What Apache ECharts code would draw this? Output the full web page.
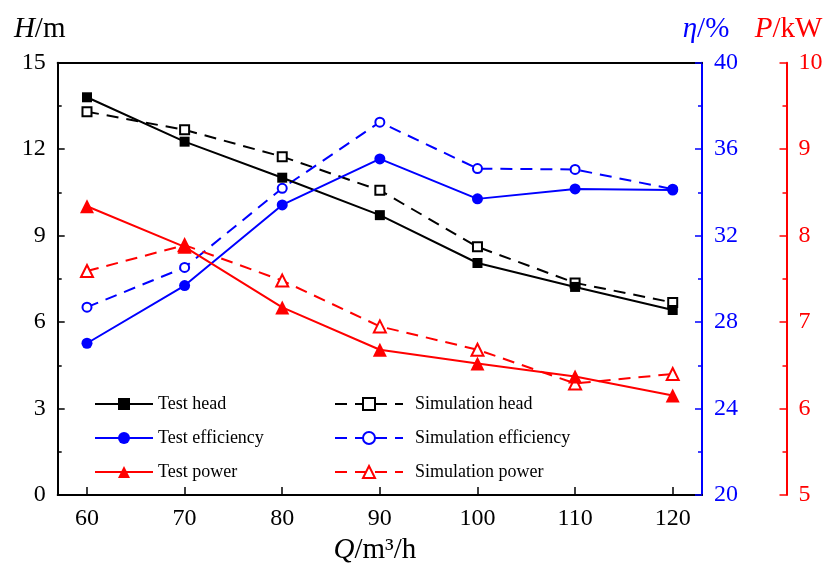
<!DOCTYPE html>
<html>
<head>
<meta charset="utf-8">
<script src="https://cdn.jsdelivr.net/npm/echarts@6/dist/echarts.min.js"></script>
<style>html,body{margin:0;padding:0;background:#fff}#c{width:826px;height:570px}</style>
</head>
<body>
<div id="c"></div>
<script>
var flow = [60, 70, 80, 90, 100, 110, 120];
var xTicks = [60, 70, 80, 90, 100, 110, 120];
var testHead = [13.80, 12.26, 11.01, 9.71, 8.05, 7.22, 6.42];
var simHead = [13.30, 12.67, 11.74, 10.57, 8.61, 7.36, 6.68];
var testEff = [27.02, 29.69, 33.42, 35.55, 33.70, 34.16, 34.11];
var simEff = [28.69, 30.53, 34.19, 37.25, 35.10, 35.06, 34.15];
var testPower = [8.34, 7.87, 7.17, 6.68, 6.52, 6.37, 6.15];
var simPower = [7.59, 7.89, 7.48, 6.95, 6.68, 6.29, 6.40];

var FONT = 'Liberation Serif';
var BLUE = '#0000ff', RED = '#ff0000', BLACK = '#000000';

function pairs(vals) { return flow.map(function (q, i) { return [q, vals[i]]; }); }

var chart = echarts.init(document.getElementById('c'), null, {renderer: 'canvas'});

function yAxisBase(color) {
  return {
    type: 'value',
    axisLine: {show: true, lineStyle: {color: color, width: 2}},
    axisTick: {show: true, inside: true, length: 7, lineStyle: {color: color, width: 1.5}},
    minorTick: {show: true, splitNumber: 2, length: 4, lineStyle: {color: color, width: 1.5}},
    splitLine: {show: false},
    axisLabel: {color: color, fontFamily: FONT, fontSize: 24, margin: 12},
    nameLocation: 'end',
    nameGap: 19,
    nameTextStyle: {fontFamily: FONT, fontSize: 29, color: color, align: 'center'}
  };
}

var yH = yAxisBase(BLACK);
yH.position = 'left'; yH.min = 0; yH.max = 15; yH.interval = 3;
yH.name = '{i|H}/m';
yH.nameTextStyle.padding = [0, 36, 0, 0];
yH.nameTextStyle.rich = {i: {fontStyle: 'italic', fontFamily: FONT, fontSize: 29, color: BLACK}};

var yE = yAxisBase(BLUE);
yE.position = 'right'; yE.offset = 0; yE.min = 20; yE.max = 40; yE.interval = 4;
yE.name = '{i|η}/%';
yE.nameTextStyle.padding = [0, 0, 0, 8];
yE.nameTextStyle.rich = {i: {fontStyle: 'italic', fontFamily: FONT, fontSize: 29, color: BLUE}};

var yP = yAxisBase(RED);
yP.position = 'right'; yP.offset = 84.5; yP.min = 5; yP.max = 10; yP.interval = 1;
yP.name = '{i|P}/kW';
yP.nameTextStyle.padding = [0, 0, 0, 4];
yP.nameTextStyle.rich = {i: {fontStyle: 'italic', fontFamily: FONT, fontSize: 29, color: RED}};

function markerSize(symbol) {
  if (symbol === 'rect') return 10;
  if (symbol === 'circle') return 11;
  if (symbol === 'triangle') return 14;
  if (symbol === 'emptyTriangle') return 12;
  return 9;
}

function lineSeries(name, data, yIdx, color, symbol, dashed, z) {
  return {
    name: name,
    type: 'line',
    yAxisIndex: yIdx,
    data: pairs(data),
    symbol: symbol,
    symbolSize: markerSize(symbol),
    showAllSymbol: true,
    z: z,
    lineStyle: {color: color, width: 2, type: dashed ? [12, 8] : 'solid'},
    itemStyle: {color: color, borderColor: color, borderWidth: dashed ? 2 : 0},
    emphasis: {disabled: true},
    animation: false
  };
}

var option = {
  animation: false,
  backgroundColor: '#ffffff',
  grid: {left: 57.7, right: 124, top: 62.7, bottom: 71.7, containLabel: false},
  xAxis: [{
    type: 'value',
    position: 'bottom',
    min: 57,
    max: 123,
    axisLine: {show: true, lineStyle: {color: BLACK, width: 2}},
    axisTick: {show: true, inside: true, length: 8, lineStyle: {color: BLACK, width: 1.5}, customValues: xTicks},
    axisLabel: {color: BLACK, fontFamily: FONT, fontSize: 24, margin: 12, customValues: xTicks},
    splitLine: {show: false},
    name: '{i|Q}/m³/h',
    nameLocation: 'middle',
    nameGap: 41,
    nameTextStyle: {fontFamily: FONT, fontSize: 29, color: BLACK, padding: [0, 10, 0, 0],
      rich: {i: {fontStyle: 'italic', fontFamily: FONT, fontSize: 29, color: BLACK}}}
  }, {
    type: 'value',
    position: 'top',
    min: 57,
    max: 123,
    axisLine: {show: true, lineStyle: {color: BLACK, width: 2}},
    axisTick: {show: false},
    axisLabel: {show: false},
    splitLine: {show: false}
  }],
  yAxis: [yH, yE, yP],
  legend: [{
    orient: 'vertical',
    left: 89,
    top: 390,
    itemWidth: 58,
    itemHeight: 15,
    itemGap: 16,
    textStyle: {fontFamily: FONT, fontSize: 18, color: BLACK},
    data: ['Test head', 'Test efficiency', 'Test power']
  }, {
    orient: 'vertical',
    left: 329,
    top: 390,
    itemWidth: 68,
    itemHeight: 15,
    itemGap: 16,
    textStyle: {fontFamily: FONT, fontSize: 18, color: BLACK, padding: [0, 0, 0, 7]},
    data: ['Simulation head', 'Simulation efficiency', 'Simulation power']
  }],
  series: [
    lineSeries('Simulation head', simHead, 0, BLACK, 'emptyRect', true, 3),
    lineSeries('Simulation efficiency', simEff, 1, BLUE, 'emptyCircle', true, 3),
    lineSeries('Simulation power', simPower, 2, RED, 'emptyTriangle', true, 3),
    lineSeries('Test head', testHead, 0, BLACK, 'rect', false, 4),
    lineSeries('Test efficiency', testEff, 1, BLUE, 'circle', false, 4),
    lineSeries('Test power', testPower, 2, RED, 'triangle', false, 4)
  ]
};
chart.setOption(option);
</script>
</body>
</html>
